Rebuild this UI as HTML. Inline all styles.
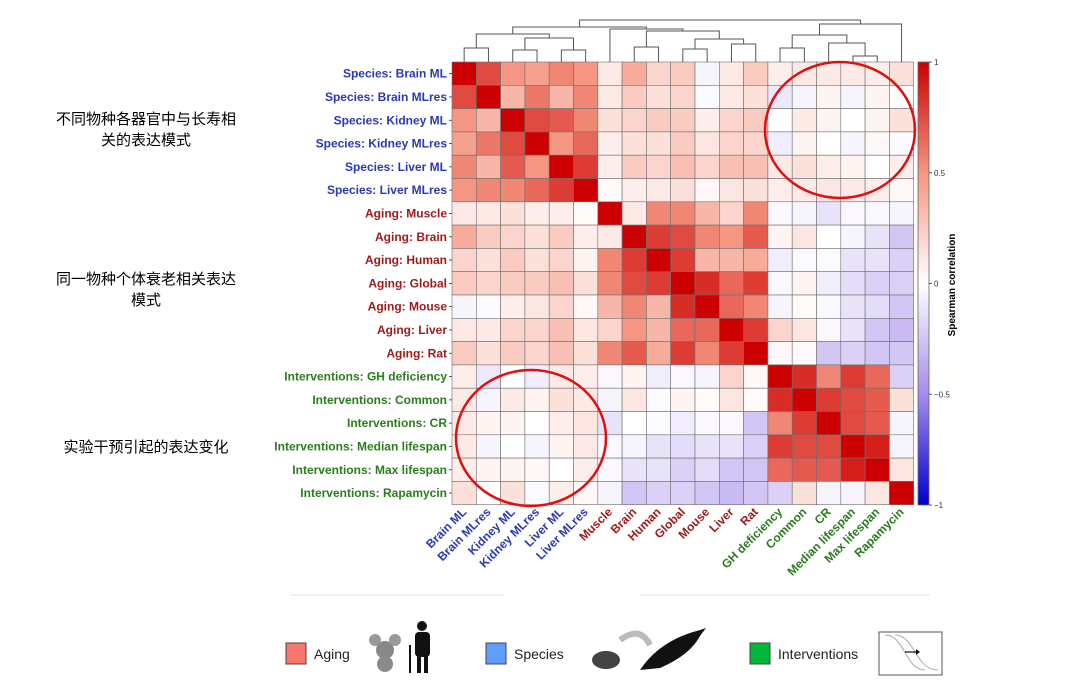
<!DOCTYPE html>
<html><head><meta charset="utf-8">
<style>
body{margin:0;background:#fff;width:1080px;height:686px;overflow:hidden;font-family:"Liberation Sans","Noto Sans CJK SC",sans-serif;}
.cn{position:absolute;font-family:"Liberation Sans","Noto Sans CJK SC",sans-serif;font-size:15px;color:#000;text-align:center;line-height:21px;}
</style></head>
<body>
<div class="cn" style="left:36px;top:109px;width:220px;">不同物种各器官中与长寿相<br>关的表达模式</div>
<div class="cn" style="left:36px;top:269px;width:220px;">同一物种个体衰老相关表达<br>模式</div>
<div class="cn" style="left:36px;top:437px;width:220px;">实验干预引起的表达变化</div>
<svg id="chart" width="1080" height="686" style="position:absolute;left:0;top:0"></svg>
<script>
const labels=["Species: Brain ML","Species: Brain MLres","Species: Kidney ML","Species: Kidney MLres","Species: Liver ML","Species: Liver MLres","Aging: Muscle","Aging: Brain","Aging: Human","Aging: Global","Aging: Mouse","Aging: Liver","Aging: Rat","Interventions: GH deficiency","Interventions: Common","Interventions: CR","Interventions: Median lifespan","Interventions: Max lifespan","Interventions: Rapamycin"];
const colLabels=["Brain ML","Brain MLres","Kidney ML","Kidney MLres","Liver ML","Liver MLres","Muscle","Brain","Human","Global","Mouse","Liver","Rat","GH deficiency","Common","CR","Median lifespan","Max lifespan","Rapamycin"];
const groups=["s","s","s","s","s","s","a","a","a","a","a","a","a","i","i","i","i","i","i"];
const r0=[1,.75,.5,.45,.55,.5,.1,.4,.2,.25,-.05,.1,.25,.08,.1,.1,.1,.08,.15];
const r1=[.75,1,.35,.6,.35,.55,.1,.25,.15,.2,-.02,.1,.15,-.1,-.05,.05,-.05,.05,0];
const r2=[.5,.35,1,.75,.7,.55,.15,.2,.25,.25,.08,.2,.25,0,.1,.05,0,.05,.15];
const r3=[.45,.6,.75,1,.5,.65,.08,.15,.15,.25,.12,.2,.2,-.08,.05,0,-.05,.03,-.02];
const r4=[.55,.35,.7,.5,1,.8,.08,.25,.2,.3,.2,.3,.3,.1,.15,.08,.05,0,.08];
const r5=[.5,.55,.55,.65,.8,1,.02,.08,.1,.15,.03,.12,.15,.08,.1,.12,.1,.08,.03];
const r6=[.1,.1,.15,.08,.08,.02,1,.1,.55,.55,.35,.2,.55,-.03,-.05,-.12,-.03,-.03,-.05];
const r7=[.4,.25,.2,.15,.25,.08,.1,1,.8,.75,.55,.5,.7,.05,.12,0,-.05,-.12,-.25];
const r8=[.2,.15,.25,.15,.2,.05,.55,.8,1,.8,.35,.35,.4,-.08,-.02,-.02,-.12,-.12,-.2];
const r9=[.25,.2,.25,.25,.3,.15,.55,.75,.8,1,.85,.65,.8,-.03,.05,-.08,-.15,-.2,-.2];
const r10=[-.05,-.02,.08,.12,.2,.03,.35,.55,.35,.85,1,.65,.55,-.05,.02,-.03,-.12,-.15,-.25];
const r11=[.1,.1,.2,.2,.3,.12,.2,.5,.35,.65,.65,1,.8,.2,.12,-.03,-.12,-.25,-.3];
const r12=[.25,.15,.25,.2,.3,.15,.55,.7,.4,.8,.55,.8,1,.03,.02,-.25,-.2,-.25,-.25];
const r13=[.08,-.1,0,-.08,.1,.08,-.03,.05,-.08,-.03,-.05,.2,.03,1,.85,.55,.8,.65,-.2];
const r14=[.1,-.05,.1,.05,.15,.1,-.05,.12,-.02,.05,.02,.12,.02,.85,1,.8,.75,.7,.15];
const r15=[.1,.05,.05,0,.08,.12,-.12,0,-.02,-.08,-.03,-.03,-.25,.55,.8,1,.75,.7,-.05];
const r16=[.1,-.05,0,-.05,.05,.1,-.03,-.05,-.12,-.15,-.12,-.12,-.2,.8,.75,.75,1,.9,-.05];
const r17=[.08,.05,.05,.03,0,.08,-.03,-.12,-.12,-.2,-.15,-.25,-.25,.65,.7,.7,.9,1,.12];
const r18=[.15,0,.15,-.02,.08,.03,-.05,-.25,-.2,-.2,-.25,-.3,-.25,-.2,.15,-.05,-.05,.12,1];
const matrix=[r0,r1,r2,r3,r4,r5,r6,r7,r8,r9,r10,r11,r12,r13,r14,r15,r16,r17,r18];
const cbTicks=[1,0.5,0,-0.5,-1];
const cbTickLabels=["1","0.5","0","\u22120.5","\u22121"];

const NS="http://www.w3.org/2000/svg";
const svg=document.getElementById('chart');
const X0=452,Y0=62,CW=24.3,CH=23.3,N=labels.length;
const xPos=i=>X0+i*CW, yPos=i=>Y0+i*CH;
function mk(t,a){const e=document.createElementNS(NS,t);for(const k in a)e.setAttribute(k,a[k]);svg.appendChild(e);return e;}
function lerp(a,b,t){return a.map((v,i)=>Math.round(v+(b[i]-v)*t));}
function color(v){
  let c;
  if(v>=0){c=v<0.5?lerp([255,255,255],[244,150,130],v/0.5):lerp([244,150,130],[204,0,0],(v-0.5)/0.5);}
  else{const a=-v;c=a<0.5?lerp([255,255,255],[165,140,235],a/0.5):lerp([165,140,235],[0,0,204],(a-0.5)/0.5);}
  return `rgb(${c[0]},${c[1]},${c[2]})`;
}
const gcol={s:"#2b3ab5",a:"#9e1a1a",i:"#2a7d1c"};
for(let r=0;r<N;r++)for(let c=0;c<N;c++){
  const e=mk('rect',{x:xPos(c),y:yPos(r),width:CW,height:CH,fill:color(matrix[r][c]),stroke:'#6e6e6e','stroke-width':0.6});
  
  
}
for(let i=0;i<N;i++){
  const t=mk('text',{x:X0-5,y:yPos(i)+CH/2+4,'text-anchor':'end','font-size':12,'font-weight':'bold',fill:gcol[groups[i]],'font-family':'Liberation Sans, sans-serif'});
  t.textContent=labels[i];
  
  
  const cx=xPos(i)+CW/2+3, cy=Y0+N*CH+8;
  const tc=mk('text',{x:cx,y:cy,'text-anchor':'end','font-size':12,'font-weight':'bold',fill:gcol[groups[i]],transform:`rotate(-45 ${cx} ${cy})`,'font-family':'Liberation Sans, sans-serif'});
  tc.textContent=colLabels[i];
  
  
  const tk=mk('line',{x1:X0-3,x2:X0,y1:yPos(i)+CH/2,y2:yPos(i)+CH/2,stroke:'#333','stroke-width':0.8});
  
  
}
// dendrogram
const cxC=i=>xPos(i)+CW/2;
function leaf(i){return {x:cxC(i),y:Y0};}
function merge(a,b,h){
  mk('path',{d:`M${a.x} ${a.y}V${h}H${b.x}V${b.y}`,fill:'none',stroke:'#555','stroke-width':1});
  return {x:(a.x+b.x)/2,y:h};
}
const L=leaf;
const s01=merge(L(0),L(1),48),s23=merge(L(2),L(3),50),s45=merge(L(4),L(5),50);
const s2345=merge(s23,s45,38),sp=merge(s01,s2345,34);
const a78=merge(L(7),L(8),47),a910=merge(L(9),L(10),49),a1112=merge(L(11),L(12),44);
const a912=merge(a910,a1112,39),a712=merge(a78,a912,31),ag=merge(L(6),a712,29);
const sa=merge(sp,ag,27);
const i1314=merge(L(13),L(14),48),i1617=merge(L(16),L(17),56),i1517=merge(L(15),i1617,43);
const i1317=merge(i1314,i1517,35),iv=merge(i1317,L(18),24);
merge(sa,iv,20);
// colorbar
const CBX=918,CBW=11,CBT=62,CBB=505;
const grad=document.createElementNS(NS,'linearGradient');grad.setAttribute('id','cb');grad.setAttribute('x1',0);grad.setAttribute('x2',0);grad.setAttribute('y1',0);grad.setAttribute('y2',1);
svg.appendChild(grad);
for(let k=0;k<=20;k++){const st=document.createElementNS(NS,'stop');st.setAttribute('offset',k/20);st.setAttribute('stop-color',color(1-k/10));grad.appendChild(st);}
const cbr=mk('rect',{x:CBX,y:CBT,width:CBW,height:CBB-CBT,fill:'url(#cb)',stroke:'#666','stroke-width':0.8});


const cbY=v=>CBT+(1-v)/2*(CBB-CBT);
cbTicks.forEach((v,k)=>{
  mk('line',{x1:CBX+CBW,x2:CBX+CBW+3,y1:cbY(v),y2:cbY(v),stroke:'#555'});
  const t=mk('text',{x:CBX+CBW+5,y:cbY(v)+3,'font-size':8,fill:'#333'});
  t.textContent=cbTickLabels[k];
  
  
});
const ct=mk('text',{x:955,y:285,'font-size':10,'font-weight':'bold','text-anchor':'middle',transform:'rotate(-90 955 285)'});
ct.textContent='Spearman correlation';


// circles
const c1=mk('ellipse',{cx:840,cy:130,rx:75,ry:68,fill:'none',stroke:'#e01010','stroke-width':2.5});


const c2=mk('ellipse',{cx:531,cy:438,rx:75,ry:68,fill:'none',stroke:'#e01010','stroke-width':2.5});


// bottom legend
mk('line',{x1:290,x2:505,y1:595,y2:595,stroke:'#eee','stroke-width':1.5});
mk('line',{x1:640,x2:930,y1:595,y2:595,stroke:'#eee','stroke-width':1.5});
function leg(x,col,label,name){
  const r=mk('rect',{x:x,y:643,width:20,height:21,fill:col,stroke:'#444','stroke-width':1});
  
  
  const t=mk('text',{x:x+28,y:659,'font-size':14,fill:'#222'});
  t.textContent=label;
  
  
}
leg(286,'#f8766d','Aging','aging');
leg(486,'#619cff','Species','species');
leg(750,'#00b83a','Interventions','interventions');
// icons (simplified)
mk('circle',{cx:385,cy:650,r:9,fill:'#888'});mk('circle',{cx:375,cy:640,r:6,fill:'#999'});mk('circle',{cx:395,cy:640,r:6,fill:'#999'});
mk('ellipse',{cx:385,cy:664,rx:8,ry:8,fill:'#8a8a8a'});
mk('circle',{cx:422,cy:626,r:5,fill:'#111'});mk('rect',{x:415,y:632,width:15,height:25,rx:4,fill:'#111'});
mk('rect',{x:417,y:655,width:4,height:18,fill:'#111'});mk('rect',{x:424,y:655,width:4,height:18,fill:'#111'});
mk('line',{x1:410,y1:645,x2:410,y2:673,stroke:'#111','stroke-width':2});
mk('ellipse',{cx:606,cy:660,rx:14,ry:9,fill:'#444'});
mk('path',{d:'M620 640 Q640 625 650 645',fill:'none',stroke:'#bbb','stroke-width':6});
mk('path',{d:'M640 670 Q660 640 700 630 L706 628 L700 636 Q690 655 660 668 Z',fill:'#111'});
mk('rect',{x:879,y:632,width:63,height:43,fill:'#fff',stroke:'#555','stroke-width':1});
mk('path',{d:'M885 635 C905 635 905 670 925 670',fill:'none',stroke:'#aaa'});
mk('path',{d:'M895 635 C915 635 915 670 938 670',fill:'none',stroke:'#aaa'});
mk('line',{x1:905,x2:918,y1:652,y2:652,stroke:'#111','stroke-width':1.2});
mk('path',{d:'M916 649 L920 652 L916 655 Z',fill:'#111'});
</script>
</body></html>
